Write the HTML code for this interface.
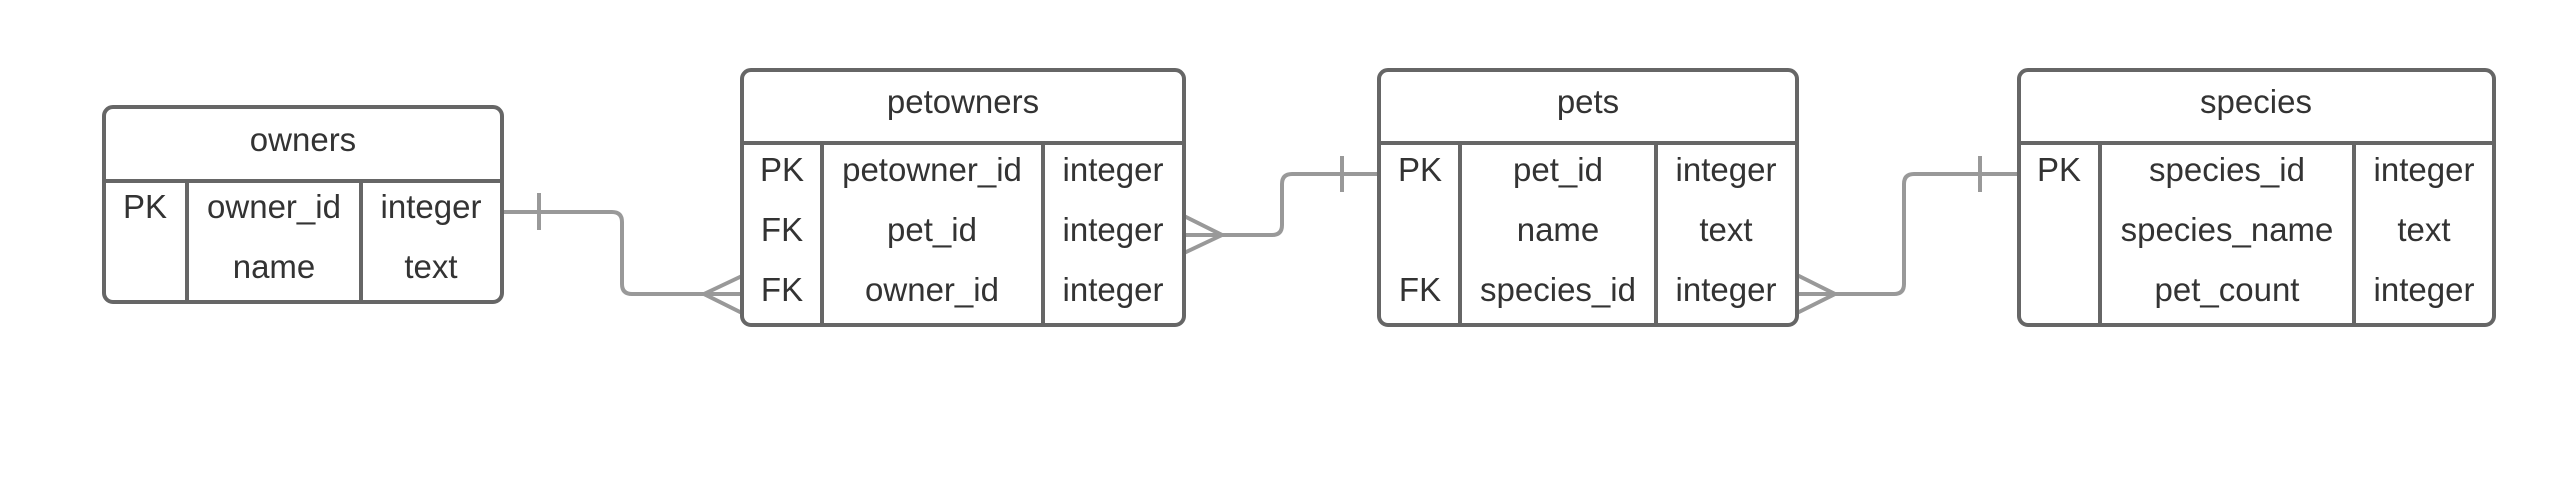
<!DOCTYPE html>
<html><head><meta charset="utf-8"><style>html,body{margin:0;padding:0;background:#fff}svg{display:block}</style></head><body>
<svg width="2558" height="488" viewBox="0 0 2558 488" xmlns="http://www.w3.org/2000/svg" font-family="Liberation Sans, Arial, sans-serif" font-size="33" fill="#333">
<g fill="none" stroke="#999" stroke-width="4">
<path d="M502 212 H612 Q622 212 622 222 V284 Q622 294 632 294 H742"/>
<path d="M539 193 V230"/>
<path d="M742 276 L704 294 L742 313"/>
<path d="M1184 235 H1272 Q1282 235 1282 225 V184 Q1282 174 1292 174 H1379"/>
<path d="M1342 156 V192"/>
<path d="M1184 216 L1222 235 L1184 253"/>
<path d="M1797 294 H1894 Q1904 294 1904 284 V184 Q1904 174 1914 174 H2019"/>
<path d="M1980 156 V192"/>
<path d="M1797 275 L1835 294 L1797 313"/>
</g>
<g fill="none" stroke="#666" stroke-width="4">
<rect x="104" y="107" width="398" height="195" rx="9"/>
<path d="M104 181 H502 M187 181 V302 M361 181 V302"/>
<rect x="742" y="70" width="442" height="255" rx="9"/>
<path d="M742 143 H1184 M822 143 V325 M1043 143 V325"/>
<rect x="1379" y="70" width="418" height="255" rx="9"/>
<path d="M1379 143 H1797 M1460 143 V325 M1656 143 V325"/>
<rect x="2019" y="70" width="475" height="255" rx="9"/>
<path d="M2019 143 H2494 M2100 143 V325 M2354 143 V325"/>
</g>
<g text-anchor="middle">
<text x="303" y="151">owners</text>
<text x="145" y="218">PK</text><text x="274" y="218">owner_id</text><text x="431" y="218">integer</text>
<text x="274" y="278">name</text><text x="431" y="278">text</text>

<text x="963" y="113">petowners</text>
<text x="782" y="181">PK</text><text x="932" y="181">petowner_id</text><text x="1113" y="181">integer</text>
<text x="782" y="241">FK</text><text x="932" y="241">pet_id</text><text x="1113" y="241">integer</text>
<text x="782" y="301">FK</text><text x="932" y="301">owner_id</text><text x="1113" y="301">integer</text>

<text x="1588" y="113">pets</text>
<text x="1420" y="181">PK</text><text x="1558" y="181">pet_id</text><text x="1726" y="181">integer</text>
<text x="1558" y="241">name</text><text x="1726" y="241">text</text>
<text x="1420" y="301">FK</text><text x="1558" y="301">species_id</text><text x="1726" y="301">integer</text>

<text x="2256" y="113">species</text>
<text x="2059" y="181">PK</text><text x="2227" y="181">species_id</text><text x="2424" y="181">integer</text>
<text x="2227" y="241">species_name</text><text x="2424" y="241">text</text>
<text x="2227" y="301">pet_count</text><text x="2424" y="301">integer</text>
</g>
</svg>
</body></html>
